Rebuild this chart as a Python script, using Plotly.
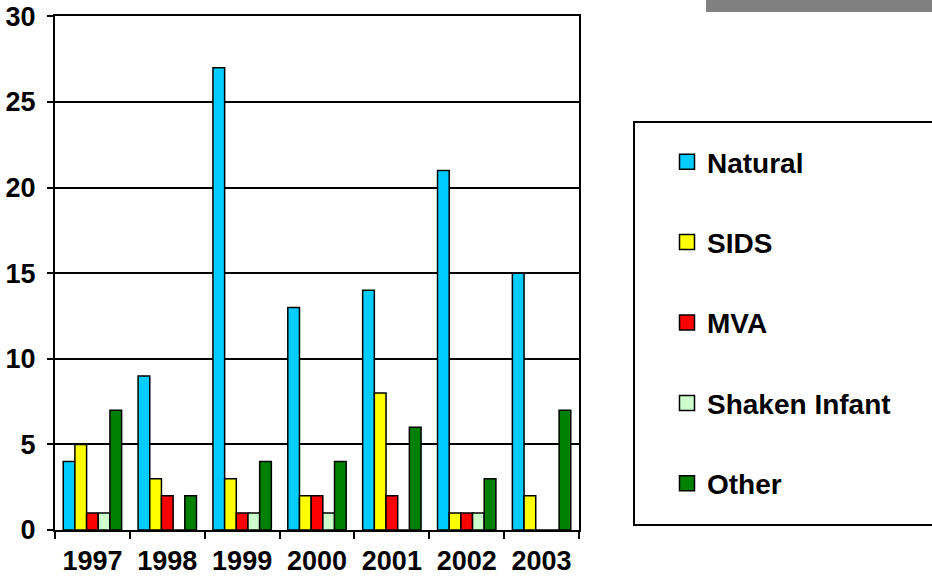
import plotly.graph_objects as go

years = ["1997", "1998", "1999", "2000", "2001", "2002", "2003"]
natural = [4, 9, 27, 13, 14, 21, 15]
sids = [5, 3, 3, 2, 8, 1, 2]
mva = [1, 2, 1, 2, 2, 1, 0]
shaken = [1, 0, 1, 1, 0, 1, 0]
other = [7, 2, 4, 4, 6, 3, 7]

series = [
    ("Natural", natural, "#00CCFF"),
    ("SIDS", sids, "#FFFF00"),
    ("MVA", mva, "#FF0000"),
    ("Shaken Infant", shaken, "#CCFFCC"),
    ("Other", other, "#008000"),
]

FONT = "Liberation Sans, Arial, sans-serif"

fig = go.Figure()
for name, vals, col in series:
    fig.add_trace(go.Bar(
        x=years, y=vals, name=name, legendgroup=name, showlegend=False,
        marker=dict(color=col, line=dict(color="black", width=1.5)),
    ))
# legend entries (square keys)
for name, vals, col in series:
    fig.add_trace(go.Scatter(
        x=[None], y=[None], mode="markers", name=name, legendgroup=name,
        marker=dict(symbol="square", size=15, color=col,
                    line=dict(color="black", width=1.5)),
    ))

W, H = 932, 582
L, R, T, B = 55, 353, 16, 52
pw = W - L - R
ph = H - T - B

def px_x(p):
    return (p - L) / pw

def px_y(p):
    return (H - B - p) / ph

fig.update_layout(
    width=W, height=H,
    margin=dict(l=L, r=R, t=T, b=B, autoexpand=False),
    paper_bgcolor="white", plot_bgcolor="white",
    barmode="group", bargap=0.22, bargroupgap=0,
    font=dict(family=FONT, color="black"),
    showlegend=True,
    legend=dict(
        xref="container", yref="container",
        x=667 / W, y=1 - 137 / H, xanchor="left", yanchor="top",
        font=dict(family=FONT, size=28, weight="bold", color="black"),
        traceorder="grouped", tracegroupgap=41, maxheight=560,
        bgcolor="rgba(0,0,0,0)", borderwidth=0,
    ),
    shapes=[
        dict(type="rect", xref="paper", yref="paper", layer="below",
             x0=px_x(634), x1=px_x(960), y0=px_y(525), y1=px_y(122),
             line=dict(color="black", width=2), fillcolor="white"),
        dict(type="rect", xref="paper", yref="paper", layer="above",
             x0=px_x(706), x1=px_x(960), y0=px_y(12), y1=px_y(-10),
             line=dict(width=0), fillcolor="#808080"),
    ],
)

fig.update_xaxes(
    type="category",
    showline=True, linecolor="black", linewidth=2, mirror=True,
    ticks="outside", tickson="boundaries", ticklen=7, tickcolor="black", tickwidth=2,
    tickfont=dict(family=FONT, size=27, weight="bold", color="black"),
    ticklabelstandoff=6,
    showgrid=False,
)
fig.update_yaxes(
    range=[0, 30.02], tickvals=[0, 5, 10, 15, 20, 25, 30],
    showline=True, linecolor="black", linewidth=2, mirror=True,
    ticks="outside", ticklen=6, tickcolor="black", tickwidth=2,
    tickfont=dict(family=FONT, size=27, weight="bold", color="black"),
    ticklabelstandoff=6, ticklabeloverflow="allow",
    showgrid=True, gridcolor="black", gridwidth=1.5,
    zeroline=False,
)

fig.write_html("out.html", config={"displayModeBar": False},
               post_script="document.body.style.margin='0';")
